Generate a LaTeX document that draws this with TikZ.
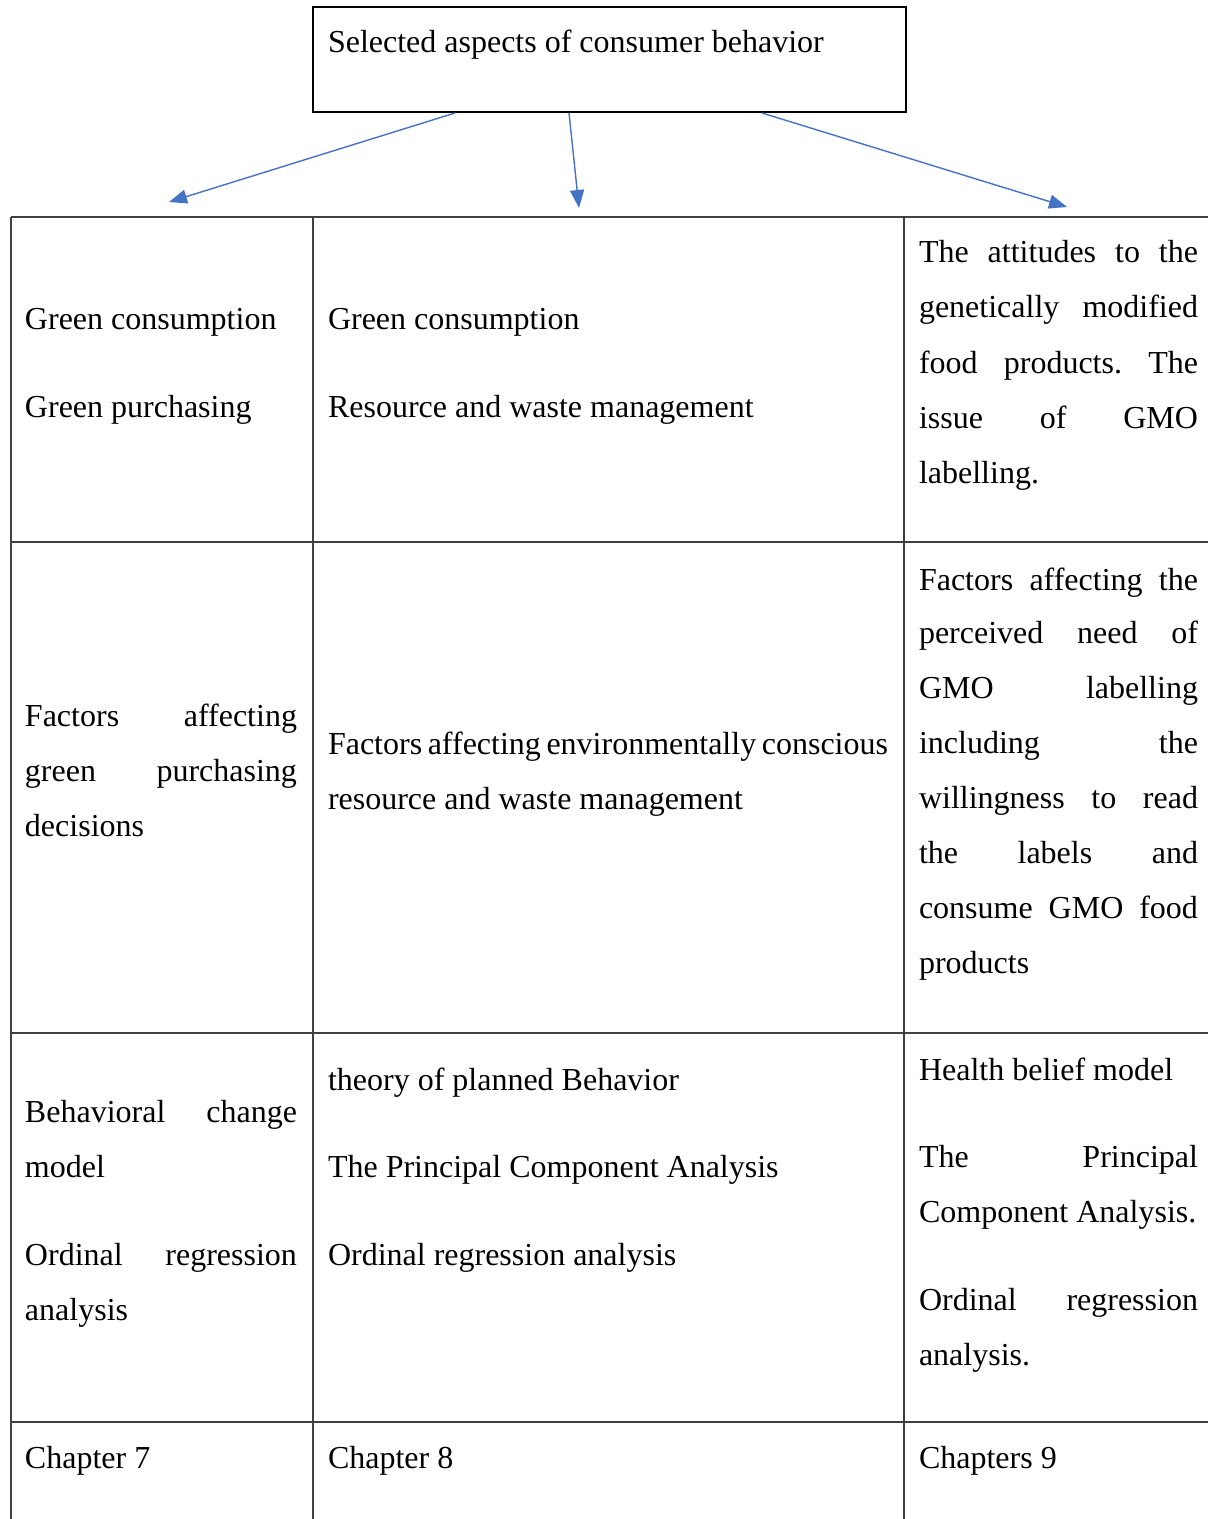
\documentclass[tikz,border=0pt]{standalone}
\usepackage{fontspec}
\setmainfont{Liberation Serif}
\usetikzlibrary{arrows.meta}
\frenchspacing
\definecolor{arrowblue}{HTML}{4472C4}
\definecolor{rulegrey}{HTML}{404040}
\newcommand{\jl}[2]{\makebox[#1][s]{#2}}
\tikzset{
  tableline/.style={draw=rulegrey, line width=1pt},
  txt/.style={anchor=base west, inner sep=0pt, outer sep=0pt, font=\fontsize{16}{19}\selectfont\frenchspacing},
  arr/.style={draw=arrowblue, line width=0.7pt, -{Triangle[length=9pt,width=7pt]}},
  topbox/.style={draw=black, line width=1pt, minimum width=296.5pt, minimum height=52.5pt, inner sep=0pt}
}
\begin{document}
\begin{tikzpicture}[x=0.5pt,y=-0.5pt]
\useasboundingbox (0,0) rectangle (1208,1519);
% top box
\node[topbox] (top) at (609.5,59.5) {};
\node[txt] (toptxt) at (328,53) {Selected aspects of consumer behavior};
% arrow ends
\coordinate (e1) at (169,202);
\coordinate (e2) at (579,208);
\coordinate (e3) at (1067,207);
\draw[arr] ([xshift=71.5pt]top.south west) -- (e1);
\draw[arr] ([xshift=128.5pt]top.south west) -- (e2);
\draw[arr] ([xshift=225pt]top.south west) -- (e3);
% table
\draw[tableline] (11,217) -- (1208,217);
\draw[tableline] (11,542) -- (1208,542);
\draw[tableline] (11,1033) -- (1208,1033);
\draw[tableline] (11,1422) -- (1208,1422);
\draw[tableline] (11,217) -- (11,1519);
\draw[tableline] (313,217) -- (313,1519);
\draw[tableline] (904,217) -- (904,1519);
% row 1
\node[txt] (a1) at (25,330) {Green consumption};
\node[txt] (a2) at (25,417) {Green purchasing};
\node[txt] (b1) at (328,330) {Green consumption};
\node[txt] (b2) at (328,417) {Resource and waste management};
\node[txt] (c1) at (919,263) {\jl{139.5pt}{The attitudes to the}};
\node[txt] (c2) at (919,318) {\jl{139.5pt}{genetically modified}};
\node[txt] (c3) at (919,373) {\jl{139.5pt}{food products. The}};
\node[txt] (c4) at (919,428) {\jl{139.5pt}{issue of GMO}};
\node[txt] (c5) at (919,483) {labelling.};
% row 2
\node[txt] (d1) at (25,726) {\jl{136pt}{Factors affecting}};
\node[txt] (d2) at (25,781) {\jl{136pt}{green purchasing}};
\node[txt] (d3) at (25,836) {decisions};
\node[txt] (f1) at (328,754) {\jl{280pt}{Factors affecting environmentally conscious}};
\node[txt] (f2) at (328,809) {resource and waste management};
\node[txt] (g1) at (919,590) {\jl{139.5pt}{Factors affecting the}};
\node[txt] (g2) at (919,643) {\jl{139.5pt}{perceived need of}};
\node[txt] (g3) at (919,698) {\jl{139.5pt}{GMO labelling}};
\node[txt] (g4) at (919,753) {\jl{139.5pt}{including the}};
\node[txt] (g5) at (919,808) {\jl{139.5pt}{willingness to read}};
\node[txt] (g6) at (919,863) {\jl{139.5pt}{the labels and}};
\node[txt] (g7) at (919,918) {\jl{139.5pt}{consume GMO food}};
\node[txt] (g8) at (919,973) {products};
% row 3
\node[txt] (h1) at (25,1122) {\jl{136pt}{Behavioral change}};
\node[txt] (h2) at (25,1177) {model};
\node[txt] (h3) at (25,1265) {\jl{136pt}{Ordinal regression}};
\node[txt] (h4) at (25,1320) {analysis};
\node[txt] (i1) at (328,1090) {theory of planned Behavior};
\node[txt] (i2) at (328,1177) {The Principal Component Analysis};
\node[txt] (i3) at (328,1265) {Ordinal regression analysis};
\node[txt] (k1) at (919,1080) {Health belief model};
\node[txt] (k2) at (919,1167) {\jl{139.5pt}{The Principal}};
\node[txt] (k3) at (919,1222) {Component Analysis.};
\node[txt] (k4) at (919,1310) {\jl{139.5pt}{Ordinal regression}};
\node[txt] (k5) at (919,1365) {analysis.};
% row 4
\node[txt] (m1) at (25,1468) {Chapter 7};
\node[txt] (m2) at (328,1468) {Chapter 8};
\node[txt] (m3) at (919,1468) {Chapters 9};
\end{tikzpicture}
\end{document}
